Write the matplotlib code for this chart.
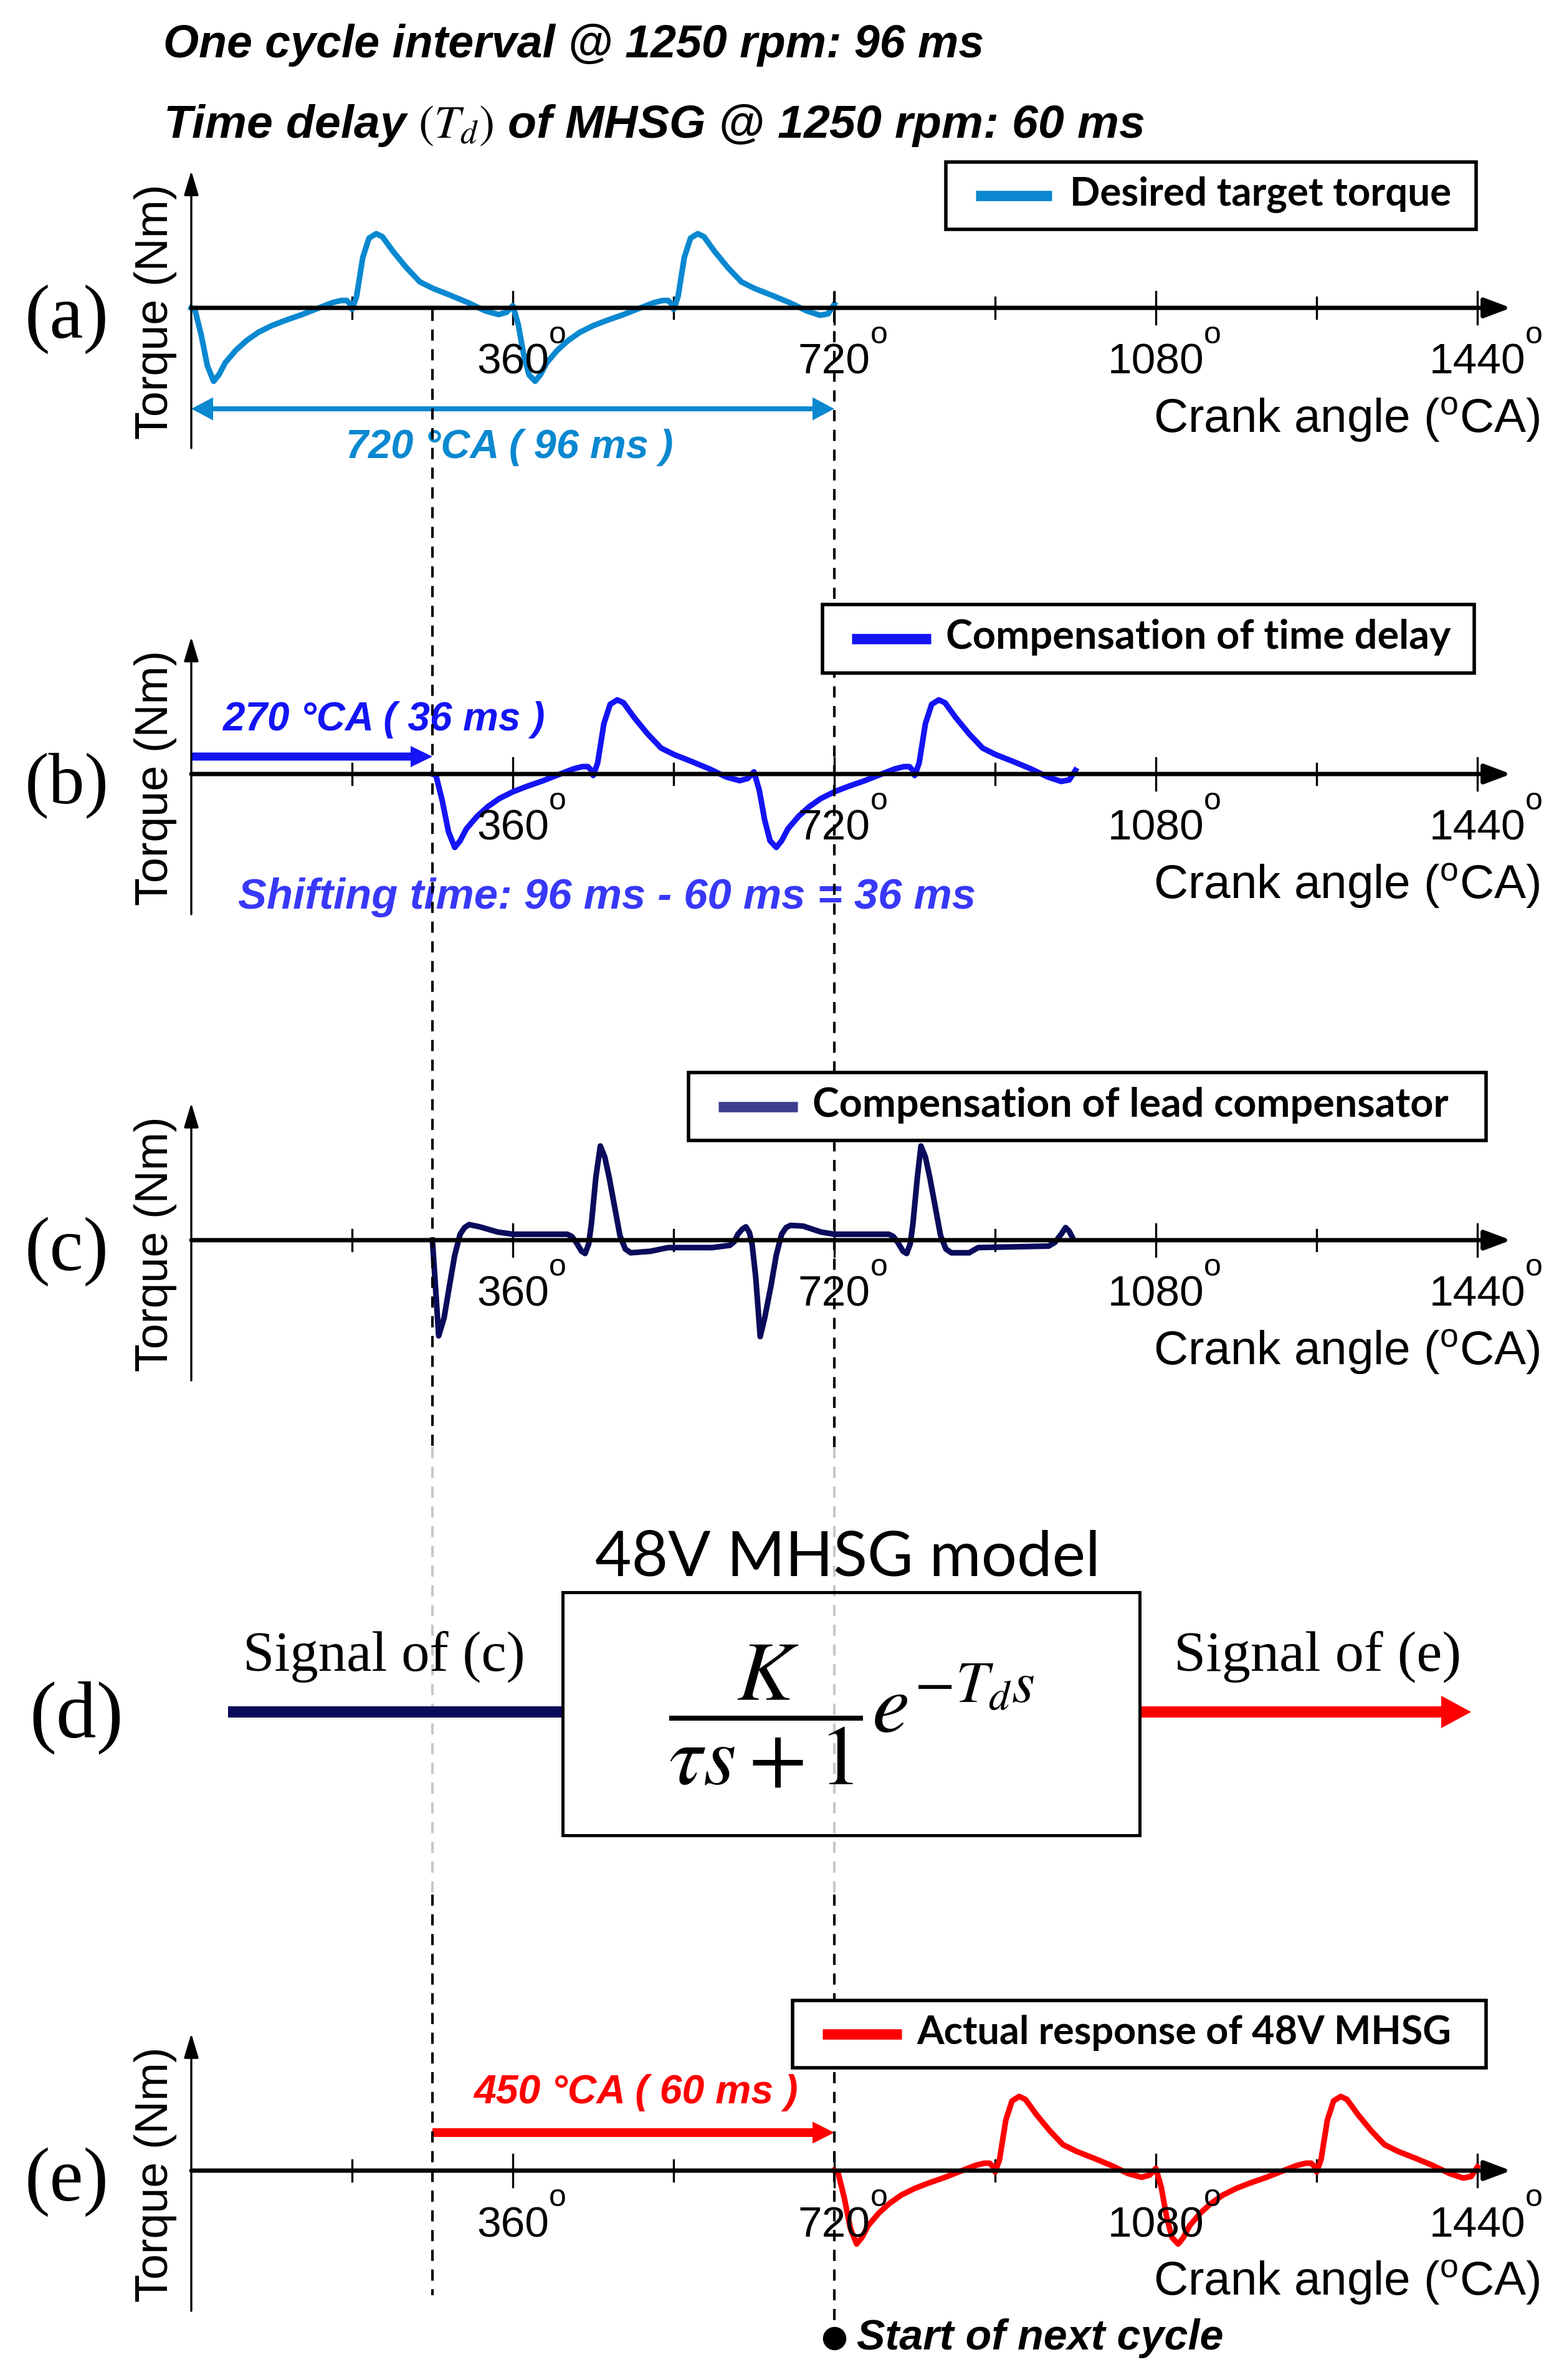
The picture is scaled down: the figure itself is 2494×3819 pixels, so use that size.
import numpy as np
import matplotlib
matplotlib.use('Agg')
import matplotlib.pyplot as plt
import matplotlib.transforms as mtransforms
from matplotlib.patches import Rectangle

plt.rcParams['font.family'] = ['Liberation Sans', 'DejaVu Sans']
plt.rcParams['mathtext.fontset'] = 'custom'
plt.rcParams['mathtext.rm'] = 'Liberation Sans'
plt.rcParams['mathtext.it'] = 'Liberation Sans:italic'
plt.rcParams['mathtext.bf'] = 'Liberation Sans:bold'

# ---- data (torque normalised to the target peak) ----
# one 720 degCA cycle of the desired target torque
cycle_angle = np.array([0, 4, 11, 18, 25, 31, 38, 50, 62, 75, 90, 105, 124, 143, 158, 168, 174, 178, 180,
                        185, 192, 199, 207, 214, 226, 241, 256, 271, 290, 310, 329, 344, 353, 360,
                        366, 372, 378, 385, 391, 398, 410, 422, 435, 450, 465, 484, 503, 518, 528, 534, 538, 540,
                        545, 552, 559, 567, 574, 586, 601, 616, 631, 650, 670, 689, 704, 713, 720])
cycle_torque = np.array([0.00, -0.02, -0.36, -0.78, -0.99, -0.90, -0.74, -0.57, -0.44, -0.33, -0.24, -0.17, -0.09,
                         0.00, 0.07, 0.10, 0.10, 0.05, -0.02,
                         0.15, 0.68, 0.94, 1.00, 0.96, 0.76, 0.54, 0.35, 0.26, 0.17, 0.07, -0.04, -0.09, -0.06, 0.03,
                         -0.22, -0.62, -0.90, -0.99, -0.90, -0.74, -0.57, -0.44, -0.33, -0.24, -0.17, -0.09,
                         0.00, 0.07, 0.10, 0.10, 0.05, -0.02,
                         0.15, 0.68, 0.94, 1.00, 0.96, 0.76, 0.54, 0.35, 0.26, 0.17, 0.07, -0.04, -0.10, -0.08, 0.05])

# output of the lead compensator (absolute crank angle)
lead_angle = np.array([270, 277, 283, 289, 295, 301, 306, 311, 323, 343, 360, 387, 421, 426, 431, 437, 441, 445,
                       448, 453, 458, 463, 468, 474, 480, 486, 492, 514, 534, 583, 603, 608, 612, 617, 621,
                       625, 628, 632, 637, 642, 649, 655, 661, 666, 671, 685, 705, 720, 781, 786, 791, 797,
                       801, 805, 808, 813, 817, 822, 827, 833, 839, 845, 851, 871, 881, 960, 967, 974, 979,
                       983, 986])
lead_torque = np.array([0.00, -1.29, -1.05, -0.62, -0.20, 0.08, 0.17, 0.21, 0.18, 0.11, 0.08, 0.08, 0.08, 0.05,
                        -0.03, -0.15, -0.18, -0.05, 0.22, 0.85, 1.27, 1.12, 0.84, 0.45, 0.06, -0.12, -0.17,
                        -0.15, -0.10, -0.10, -0.07, -0.02, 0.08, 0.15, 0.18, 0.10, -0.06, -0.50, -1.30, -1.05,
                        -0.62, -0.20, 0.08, 0.17, 0.20, 0.19, 0.11, 0.08, 0.08, 0.05, -0.03, -0.15, -0.18,
                        -0.05, 0.22, 0.85, 1.27, 1.12, 0.84, 0.45, 0.06, -0.12, -0.17, -0.17, -0.10, -0.08,
                        -0.03, 0.08, 0.17, 0.12, 0.05])

shift_b = 270    # compensation of time delay (96 ms - 60 ms)
shift_e = 720    # actual response starts with the next cycle
cycle_len = 720

tick_angles = [180, 360, 540, 720, 900, 1080, 1260, 1440]
label_angles = [360, 720, 1080, 1440]
label_texts = ['360', '720', '1080', '1440']

# ---- layout (figure pixels) ----
W, H, DPI = 2494, 3819, 100
X0_PX, X1440_PX = 307, 2371
DEG_PX = (X1440_PX - X0_PX) / 1440.0
UNIT_PX = 119.0
HALF = 340
CURVE_LW = 6.5

COLOR_A = '#0A88D0'
COLOR_B = '#1414F5'
COLOR_B_TXT = '#3838F8'
COLOR_C = '#0B0B5C'
COLOR_C_LEG = '#3E3E8E'
COLOR_E = '#FF0000'

fig = plt.figure(figsize=(W / DPI, H / DPI), dpi=DPI)
renderer = fig.canvas.get_renderer()
fits = []


def px_x(p):
    return (p - X0_PX) / DEG_PX


def px_y(p):
    return p / UNIT_PX


def panel(zero, name):
    ax = fig.add_axes([0, 1 - (zero + HALF) / H, 1, 2 * HALF / H])
    ax.set_xlim(px_x(0), px_x(W))
    ax.set_ylim(-px_y(HALF), px_y(HALF))
    ax.set_axis_off()
    ax.patch.set_alpha(0)
    ax.annotate('', xy=(px_x(2425), 0), xytext=(0, 0),
                arrowprops=dict(arrowstyle='-|>,head_length=1.6,head_width=0.6', mutation_scale=16,
                                lw=5, color='k', shrinkA=0, shrinkB=0))
    ax.annotate('', xy=(0, px_y(220)), xytext=(0, -px_y(225)),
                arrowprops=dict(arrowstyle='-|>,head_length=1.5,head_width=0.45', mutation_scale=16,
                                lw=2.4, color='k', shrinkA=0, shrinkB=0))
    for t in tick_angles:
        h = px_y(26 if t % 360 == 0 else 17)
        ax.plot([t, t], [-h, h], color='k', lw=2.4)
    for t, lab in zip(label_angles, label_texts):
        txt = ax.text(t, -px_y(106), lab, ha='center', va='baseline', fontsize=50)
        ax.annotate('o', xy=(1, 1), xycoords=txt, xytext=(0, -1), textcoords='offset points',
                    ha='left', va='baseline', fontsize=36)
    c = ax.text(px_x(2472), -px_y(200), r'Crank angle ($^{\mathrm{o}}$CA)', ha='right', va='baseline',
                fontsize=52)
    fits.append((c, 621))
    ax.text(px_x(249), -px_y(6), 'Torque (Nm)', rotation=90, ha='center', va='center', fontsize=53)
    lab = ax.text(px_x(107), -px_y(18), name, ha='center', va='center', family='Liberation Serif',
                  fontsize=86)
    fits.append((lab, 135))
    return ax


def bi_text(ax, x, y, s, color, width, ha='center', va='center'):
    t = ax.text(x, y, s, ha=ha, va=va, color=color, weight='bold', style='italic', fontsize=46)
    fits.append((t, width))
    return t


# (a) desired target torque
ax_a = panel(494, '(a)')
ax_a.plot(cycle_angle, cycle_torque, color=COLOR_A, lw=CURVE_LW, solid_joinstyle='round')
mid = cycle_len / 2
for end in (0, cycle_len):
    ax_a.arrow(mid, -px_y(162), end - mid, 0, width=px_y(8), head_width=px_y(37), head_length=px_x(X0_PX + 35),
               length_includes_head=True, color=COLOR_A, lw=0)
bi_text(ax_a, px_x(818), -px_y(224), '720 °CA ( 96 ms )', COLOR_A, 525)

# (b) compensation of time delay
ax_b = panel(1242, '(b)')
ax_b.plot(cycle_angle + shift_b, cycle_torque, color=COLOR_B, lw=CURVE_LW, solid_joinstyle='round')
ax_b.arrow(0, px_y(28), shift_b, 0, width=px_y(13), head_width=px_y(34), head_length=px_x(X0_PX + 35),
           length_includes_head=True, color=COLOR_B, lw=0)
bi_text(ax_b, px_x(616), px_y(87), '270 °CA ( 36 ms )', COLOR_B, 516)
bi_text(ax_b, px_x(974), -px_y(198), 'Shifting time: 96 ms - 60 ms = 36 ms', COLOR_B_TXT, 1184)

# (c) lead compensator
ax_c = panel(1990, '(c)')
ax_c.plot(lead_angle, lead_torque, color=COLOR_C, lw=CURVE_LW, solid_joinstyle='round')

# (e) actual response
ax_e = panel(3483, '(e)')
ax_e.plot(cycle_angle + shift_e, cycle_torque, color=COLOR_E, lw=CURVE_LW, solid_joinstyle='round')
ax_e.arrow(shift_b, px_y(61), shift_e - shift_b, 0, width=px_y(14), head_width=px_y(35),
           head_length=px_x(X0_PX + 35), length_includes_head=True, color=COLOR_E, lw=0)
bi_text(ax_e, px_x(1020), px_y(125), '450 °CA ( 60 ms )', COLOR_E, 520)
ax_e.plot(shift_e, -px_y(269), 'o', color='k', ms=26)
bi_text(ax_e, px_x(1375), -px_y(269), 'Start of next cycle', 'k', 588, ha='left')

# overlay in figure pixels
ax0 = fig.add_axes([0, 0, 1, 1])
ax0.set_xlim(0, W)
ax0.set_ylim(H, 0)
ax0.set_axis_off()
ax0.patch.set_alpha(0)

t1 = ax0.text(262, 92, 'One cycle interval @ 1250 rpm: 96 ms', ha='left', va='baseline',
              weight='bold', style='italic', fontsize=53)
t2 = ax0.text(262, 221, r'Time delay $\left(T_d\right)$ of MHSG @ 1250 rpm: 60 ms', ha='left', va='baseline',
              weight='bold', style='italic', fontsize=53, math_fontfamily='stix')
fits.append((t1, 1320))
fits.append((t2, 1574))

# dashed guide lines (black, grey behind the block diagram)
trans = mtransforms.blended_transform_factory(ax_a.transData, ax0.transData)
dash = (0, (4.3, 3.3))
for ang, y_top, y_bot in ((shift_b, 497, 3683), (shift_e, 468, 3740)):
    ax0.plot([ang, ang], [y_top, 2322], transform=trans, color='k', lw=3, ls=dash, zorder=1)
    ax0.plot([ang, ang], [2322, 3040], transform=trans, color='#C8C8C8', lw=3, ls=dash, zorder=1)
    ax0.plot([ang, ang], [3040, y_bot], transform=trans, color='k', lw=3, ls=dash, zorder=1)


def legend(x0, y0, x1, y1, sx0, sx1, tx, label, color, width):
    ax0.add_patch(Rectangle((x0, y0), x1 - x0, y1 - y0, fc='white', ec='k', lw=4, zorder=5))
    yc = (y0 + y1) / 2
    ax0.plot([sx0, sx1], [yc, yc], color=color, lw=12, solid_capstyle='butt', zorder=6)
    t = ax0.text(tx, yc - 2, label, ha='left', va='center', family='Lato', weight='bold', fontsize=44,
                 zorder=6)
    fits.append((t, width))


legend(1518, 260, 2369, 368, 1566, 1688, 1717, 'Desired target torque', COLOR_A, 612)
legend(1320, 970, 2366, 1080, 1367, 1494, 1518, 'Compensation of time delay', COLOR_B, 811)
legend(1105, 1721, 2385, 1830, 1153, 1280, 1304, 'Compensation of lead compensator', COLOR_C_LEG, 1020)
legend(1272, 3210, 2385, 3318, 1320, 1447, 1471, 'Actual response of 48V MHSG', COLOR_E, 858)

# (d) block diagram of the 48V MHSG model
ax0.add_patch(Rectangle((903, 2555), 926, 390, fill=False, ec='k', lw=3.6, zorder=4))
m = ax0.text(1360, 2500, '48V MHSG model', ha='center', va='center', family='Lato', fontsize=60)
fits.append((m, 811))
ax0.plot([366, 903], [2747, 2747], color=COLOR_C, lw=13, solid_capstyle='butt', zorder=3)
ax0.arrow(1829, 2747, 2361 - 1829, 0, width=18, head_width=52, head_length=48, length_includes_head=True,
          color=COLOR_E, lw=0, zorder=3)
s1 = ax0.text(390, 2681, 'Signal of (c)', ha='left', va='baseline', family='Liberation Serif', fontsize=62)
s2 = ax0.text(1884, 2681, 'Signal of (e)', ha='left', va='baseline', family='Liberation Serif', fontsize=62)
fits.append((s1, 453))
fits.append((s2, 461))
f = ax0.text(1367, 2754, r'$\dfrac{K}{\tau s+1}e^{-T_d s}$', ha='center', va='center',
             math_fontfamily='stix', fontsize=80)
fits.append((f, 588))
d = ax0.text(123, 2756, '(d)', ha='center', va='center', family='Liberation Serif', fontsize=86)
fits.append((d, 151))

# scale texts to the widths measured on the original
for t, width in fits:
    w = t.get_window_extent(renderer).width
    t.set_fontsize(t.get_fontsize() * width / w)

fig.savefig('out.png', dpi=DPI)
